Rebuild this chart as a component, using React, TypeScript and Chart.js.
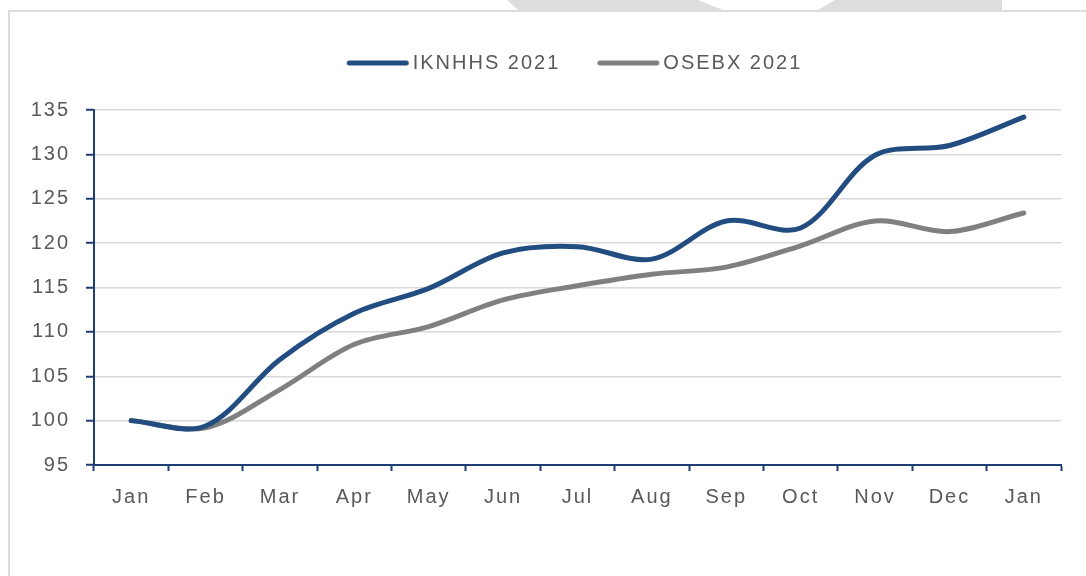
import React, { useEffect, useRef } from 'react';
import { Chart, registerables } from 'chart.js';

Chart.register(...registerables);

const categories = ['Jan', 'Feb', 'Mar', 'Apr', 'May', 'Jun', 'Jul', 'Aug', 'Sep', 'Oct', 'Nov', 'Dec', 'Jan'];
const iknhhs2021 = [100, 99.4, 106.9, 112.1, 114.9, 118.9, 119.6, 118.2, 122.5, 121.7, 129.9, 131.0, 134.2];
const osebx2021 = [100, 99.2, 103.5, 108.6, 110.6, 113.6, 115.2, 116.5, 117.3, 119.7, 122.5, 121.3, 123.4];
const seriesNames = ['IKNHHS 2021', 'OSEBX 2021'];
const yMin = 95;
const yMax = 135;
const yStep = 5;

const BLUE = '#224d80';
const GREY = '#808080';
const AXIS = '#1f3f74';
const TEXT = '#595959';
const FONT = "'Liberation Sans', Arial, sans-serif";

function legendLine(color: string) {
  const c = document.createElement('canvas');
  c.width = 80;
  c.height = 10;
  const g = c.getContext('2d')!;
  g.strokeStyle = color;
  g.lineWidth = 5;
  g.lineCap = 'round';
  g.beginPath();
  g.moveTo(13.5, 5);
  g.lineTo(70.5, 5);
  g.stroke();
  return c;
}

const spacing = {
  id: 'spacing',
  beforeUpdate(chart: any) {
    (chart.ctx as any).letterSpacing = '2px';
    const lg = chart.legend;
    if (lg && !lg.__patched) {
      const orig = lg.fit;
      lg.fit = function () {
        orig.call(this);
        this.height += 27;
      };
      lg.__patched = true;
    }
  },
  afterLayout(chart: any) {
    if (chart.legend) chart.legend.left += 90;
  },
  beforeDraw(chart: any) {
    (chart.ctx as any).letterSpacing = '2px';
  },
};

export default function App() {
  const ref = useRef<HTMLCanvasElement>(null);
  useEffect(() => {
    document.body.style.margin = '0';
    const chart = new Chart(ref.current!, {
      type: 'line',
      data: {
        labels: categories,
        datasets: [
          {
            label: seriesNames[0],
            data: iknhhs2021,
            borderColor: BLUE,
            backgroundColor: BLUE,
            borderWidth: 5,
            borderCapStyle: 'round',
            borderJoinStyle: 'round',
            tension: 0.33,
            pointRadius: 0,
            pointStyle: legendLine(BLUE) as any,
            fill: false,
          },
          {
            label: seriesNames[1],
            data: osebx2021,
            borderColor: GREY,
            backgroundColor: GREY,
            borderWidth: 5,
            borderCapStyle: 'round',
            borderJoinStyle: 'round',
            tension: 0.33,
            pointRadius: 0,
            pointStyle: legendLine(GREY) as any,
            fill: false,
          },
        ],
      },
      options: {
        responsive: false,
        animation: false,
        layout: { padding: { top: 14, right: 25, bottom: 0, left: 0 } },
        plugins: {
          legend: {
            display: true,
            position: 'top',
            labels: {
              usePointStyle: true,
              pointStyleWidth: 54,
              padding: 39,
              color: TEXT,
              font: { family: FONT, size: 20 },
            },
          },
          tooltip: { enabled: false },
        },
        scales: {
          x: {
            offset: true,
            grid: {
              offset: true,
              drawOnChartArea: false,
              drawTicks: true,
              tickLength: 6,
              tickColor: AXIS,
              tickWidth: 2,
            },
            border: { color: AXIS, width: 2 },
            ticks: { color: TEXT, font: { family: FONT, size: 20 }, padding: 14, maxRotation: 0 },
            afterFit(scale: any) {
              scale.height = 111;
            },
          },
          y: {
            min: yMin,
            max: yMax,
            grid: {
              color: '#d9d9d9',
              lineWidth: 1.5,
              drawTicks: true,
              tickLength: 8,
              tickColor: AXIS,
              tickWidth: 2,
            },
            border: { color: AXIS, width: 2 },
            ticks: { stepSize: yStep, color: TEXT, font: { family: FONT, size: 20 }, padding: 16 },
            afterFit(scale: any) {
              scale.width = 94;
            },
          },
        },
      },
      plugins: [spacing],
    });
    return () => chart.destroy();
  }, []);

  return (
    <div style={{ position: 'relative', width: 1086, height: 576, background: '#fff', overflow: 'hidden' }}>
      <div style={{ position: 'absolute', left: 8, top: 10, width: 1100, height: 600, borderLeft: '2px solid #dcdcdc', borderTop: '2px solid #dcdcdc' }} />
      <div style={{ position: 'absolute', left: 0, top: 0, width: 1086, height: 10, background: '#dddddd', clipPath: 'polygon(507px 0, 698px 0, 723px 10px, 518px 10px)' }} />
      <div style={{ position: 'absolute', left: 0, top: 0, width: 1086, height: 10, background: '#dddddd', clipPath: 'polygon(835px 0, 1002px 0, 1002px 10px, 818px 10px)' }} />
      <canvas ref={ref} width={1086} height={576} style={{ position: 'absolute', left: 0, top: 0 }} />
    </div>
  );
}
